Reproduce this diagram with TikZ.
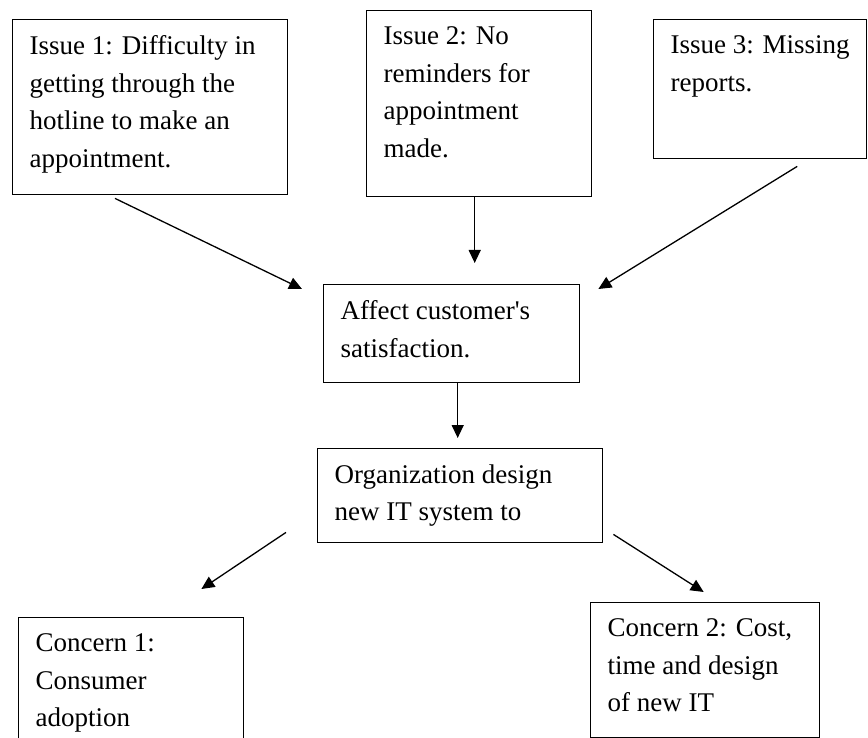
\documentclass[tikz,border=0pt]{standalone}
\usepackage{fontspec}
\setmainfont{Liberation Serif}
\usetikzlibrary{arrows.meta}

% box text: height, width, text (top aligned)
\newcommand{\boxtext}[3]{\parbox[c][#1][t]{#2}{\raggedright\vspace*{16pt}#3}}

\begin{document}
\begin{tikzpicture}[x=1pt, y=-1pt,
    box/.style={draw, line width=1.4pt, anchor=north west, inner xsep=17pt, inner ysep=0pt},
    arr/.style={-{Triangle[length=13pt,width=12pt]}, line width=1.3pt},
    font=\fontsize{27}{37.5}\selectfont]
  % Canvas
  \clip (0,0) rectangle (868,738);
  \fill[white] (0,0) rectangle (868,738);

  % Issue boxes
  \node[box] (issue1) at (12,19) {\boxtext{175pt}{241pt}{Issue 1: Difficulty in\\getting through the\\hotline to make an\\appointment.}};
  \node[box] (issue2) at (366,10) {\boxtext{186pt}{191pt}{Issue 2: No\\reminders for\\appointment\\made.}};
  \node[box] (issue3) at (653,19) {\boxtext{139pt}{179pt}{Issue 3: Missing\\reports.}};

  % Middle boxes
  \node[box] (affect) at (323,284) {\boxtext{98pt}{222pt}{Affect customer\textquotesingle s\\satisfaction.}};
  \node[box] (design) at (317,448) {\boxtext{94pt}{251pt}{Organization design\\new IT system to}};

  % Concern boxes
  \node[box] (concern1) at (18,617) {\boxtext{160pt}{191pt}{Concern 1:\\Consumer\\adoption}};
  \node[box] (concern2) at (590,602) {\boxtext{135pt}{195pt}{Concern 2: Cost,\\time and design\\of new IT}};

  % Arrows into affect
  \draw[arr] ([shift={(103,3)}]issue1.south west) -- ([shift={(-21,5)}]affect.north west);
  \draw[arr] ([xshift=-4.5pt]issue2.south) -- ([shift={(23,-21)}]affect.north);
  \draw[arr] ([shift={(37,7)}]issue3.south) -- ([shift={(18,5)}]affect.north east);

  % Arrow down to design
  \draw[arr] ([xshift=6pt]affect.south) -- ([shift={(-2.5,-10)}]design.north);

  % Arrows to concerns
  \draw[arr] ([shift={(-31,-11)}]design.south west) -- ([shift={(-43,-28)}]concern1.north east);
  \draw[arr] ([shift={(10,-9)}]design.south east) -- ([shift={(-1.5,-10)}]concern2.north);
\end{tikzpicture}
\end{document}
